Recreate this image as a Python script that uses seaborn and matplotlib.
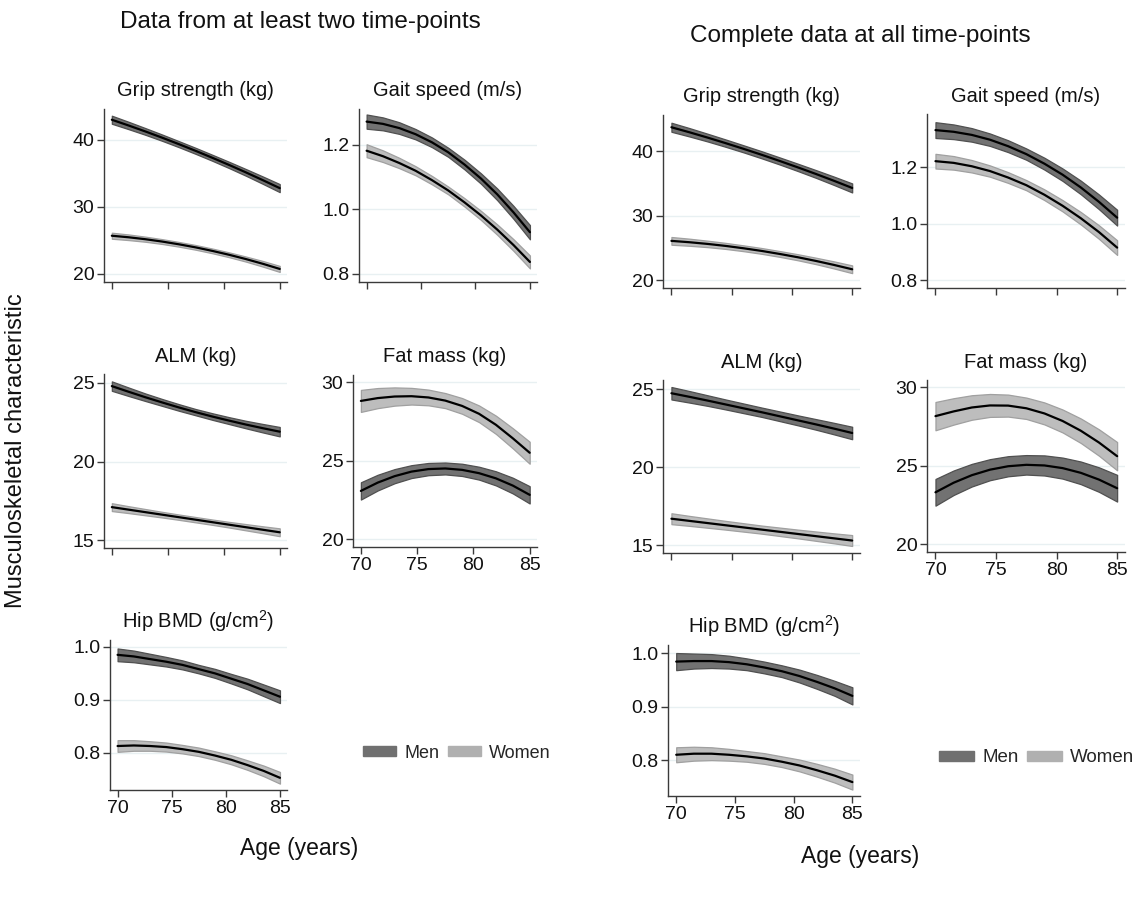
import matplotlib
matplotlib.use("Agg")
import matplotlib.pyplot as plt
import numpy as np
import pandas as pd
import seaborn as sns
from matplotlib.patches import Patch

# ---------------------------------------------------------------------------
# Data: predicted trajectories (mean and half-width of 95% CI) by age
# ---------------------------------------------------------------------------
AGES = [70, 71.5, 73, 74.5, 76, 77.5, 79, 80.5, 82, 83.5, 85]
SEXES = ["Men", "Women"]
MEASURES = ["Grip strength (kg)", "Gait speed (m/s)", "ALM (kg)",
            "Fat mass (kg)", "Hip BMD (g/cm$^2$)"]
PANEL_TITLES = ["Data from at least two time-points",
                "Complete data at all time-points"]
X_TICKS = [70, 75, 80, 85]
X_LABEL = "Age (years)"
Y_LABEL = "Musculoskeletal characteristic"

# Panel A: at least two time-points
A_GRIP_MEN = [43.0, 42.14, 41.25, 40.32, 39.35, 38.35, 37.31, 36.24, 35.13, 33.98, 32.8]
A_GRIP_WOMEN = [25.7, 25.47, 25.18, 24.83, 24.42, 23.96, 23.43, 22.85, 22.21, 21.51, 20.75]
A_GAIT_MEN = [1.271, 1.264, 1.251, 1.232, 1.207, 1.176, 1.138, 1.095, 1.046, 0.990, 0.929]
A_GAIT_WOMEN = [1.181, 1.164, 1.143, 1.119, 1.090, 1.058, 1.021, 0.981, 0.937, 0.889, 0.837]
A_ALM_MEN = [24.8, 24.44, 24.09, 23.76, 23.44, 23.14, 22.86, 22.60, 22.35, 22.12, 21.9]
A_ALM_WOMEN = [17.1, 16.94, 16.78, 16.62, 16.46, 16.3, 16.14, 15.98, 15.82, 15.66, 15.5]
A_FAT_MEN = [23.07, 23.60, 24.01, 24.30, 24.46, 24.50, 24.41, 24.20, 23.87, 23.41, 22.82]
A_FAT_WOMEN = [28.8, 28.98, 29.08, 29.1, 29.02, 28.82, 28.48, 27.98, 27.28, 26.42, 25.5]
A_HIP_MEN = [0.985, 0.982, 0.977, 0.972, 0.966, 0.958, 0.950, 0.940, 0.930, 0.918, 0.906]
A_HIP_WOMEN = [0.813, 0.814, 0.813, 0.811, 0.807, 0.802, 0.795, 0.787, 0.777, 0.766, 0.753]

A_GRIP_MEN_CI = [0.6, 0.55, 0.5, 0.47, 0.45, 0.45, 0.45, 0.47, 0.5, 0.55, 0.6]
A_GRIP_WOMEN_CI = [0.45, 0.42, 0.38, 0.36, 0.35, 0.35, 0.35, 0.36, 0.38, 0.42, 0.45]
A_GAIT_MEN_CI = [0.022, 0.02, 0.018, 0.016, 0.015, 0.014, 0.015, 0.016, 0.018, 0.02, 0.022]
A_GAIT_WOMEN_CI = [0.02, 0.018, 0.016, 0.014, 0.013, 0.012, 0.013, 0.014, 0.016, 0.018, 0.02]
A_ALM_MEN_CI = [0.3, 0.27, 0.24, 0.22, 0.21, 0.2, 0.21, 0.22, 0.24, 0.27, 0.3]
A_ALM_WOMEN_CI = [0.25, 0.22, 0.2, 0.18, 0.17, 0.17, 0.17, 0.18, 0.2, 0.22, 0.25]
A_FAT_MEN_CI = [0.55, 0.5, 0.45, 0.41, 0.39, 0.38, 0.39, 0.41, 0.45, 0.5, 0.55]
A_FAT_WOMEN_CI = [0.7, 0.64, 0.58, 0.53, 0.5, 0.48, 0.5, 0.53, 0.58, 0.64, 0.7]
A_HIP_MEN_CI = [0.012, 0.011, 0.01, 0.009, 0.0085, 0.008, 0.0085, 0.009, 0.01, 0.011, 0.012]
A_HIP_WOMEN_CI = [0.011, 0.01, 0.009, 0.0085, 0.008, 0.008, 0.008, 0.0085, 0.009, 0.01, 0.011]

# Panel B: complete data at all time-points
B_GRIP_MEN = [43.7, 42.92, 42.10, 41.24, 40.35, 39.43, 38.47, 37.48, 36.46, 35.40, 34.3]
B_GRIP_WOMEN = [26.1, 25.89, 25.63, 25.32, 24.95, 24.54, 24.07, 23.56, 22.99, 22.37, 21.7]
B_GAIT_MEN = [1.331, 1.325, 1.314, 1.297, 1.274, 1.246, 1.212, 1.173, 1.128, 1.077, 1.021]
B_GAIT_WOMEN = [1.221, 1.215, 1.203, 1.186, 1.163, 1.136, 1.102, 1.063, 1.019, 0.970, 0.915]
B_ALM_MEN = [24.75, 24.52, 24.28, 24.03, 23.78, 23.53, 23.27, 23.01, 22.75, 22.48, 22.2]
B_ALM_WOMEN = [16.7, 16.56, 16.42, 16.28, 16.14, 16.0, 15.86, 15.72, 15.58, 15.44, 15.3]
B_FAT_MEN = [23.30, 23.91, 24.39, 24.74, 24.96, 25.05, 25.01, 24.84, 24.54, 24.11, 23.56]
B_FAT_WOMEN = [28.15, 28.45, 28.7, 28.83, 28.82, 28.65, 28.32, 27.84, 27.22, 26.47, 25.6]
B_HIP_MEN = [0.984, 0.985, 0.985, 0.983, 0.979, 0.973, 0.966, 0.957, 0.946, 0.934, 0.920]
B_HIP_WOMEN = [0.810, 0.812, 0.812, 0.810, 0.807, 0.803, 0.797, 0.790, 0.781, 0.771, 0.759]

B_GRIP_MEN_CI = [0.7, 0.65, 0.6, 0.57, 0.55, 0.55, 0.55, 0.57, 0.6, 0.65, 0.7]
B_GRIP_WOMEN_CI = [0.6, 0.55, 0.5, 0.47, 0.45, 0.45, 0.45, 0.47, 0.5, 0.55, 0.6]
B_GAIT_MEN_CI = [0.028, 0.026, 0.024, 0.022, 0.021, 0.02, 0.021, 0.022, 0.024, 0.026, 0.028]
B_GAIT_WOMEN_CI = [0.026, 0.024, 0.022, 0.02, 0.019, 0.018, 0.019, 0.02, 0.022, 0.024, 0.026]
B_ALM_MEN_CI = [0.4, 0.37, 0.34, 0.32, 0.31, 0.3, 0.31, 0.32, 0.34, 0.37, 0.4]
B_ALM_WOMEN_CI = [0.35, 0.32, 0.3, 0.28, 0.27, 0.26, 0.27, 0.28, 0.3, 0.32, 0.35]
B_FAT_MEN_CI = [0.85, 0.78, 0.72, 0.67, 0.64, 0.62, 0.64, 0.67, 0.72, 0.78, 0.85]
B_FAT_WOMEN_CI = [0.9, 0.84, 0.78, 0.73, 0.7, 0.68, 0.7, 0.73, 0.78, 0.84, 0.9]
B_HIP_MEN_CI = [0.016, 0.014, 0.013, 0.012, 0.011, 0.011, 0.011, 0.012, 0.013, 0.014, 0.016]
B_HIP_WOMEN_CI = [0.014, 0.013, 0.012, 0.011, 0.01, 0.01, 0.01, 0.011, 0.012, 0.013, 0.014]

Y_TICKS = [[20, 30, 40], [0.8, 1.0, 1.2], [15, 20, 25], [20, 25, 30], [0.8, 0.9, 1.0]]
Y_FMT = ["{:.0f}", "{:.1f}", "{:.0f}", "{:.0f}", "{:.1f}"]

PANELS = [
    {
        "men": [A_GRIP_MEN, A_GAIT_MEN, A_ALM_MEN, A_FAT_MEN, A_HIP_MEN],
        "women": [A_GRIP_WOMEN, A_GAIT_WOMEN, A_ALM_WOMEN, A_FAT_WOMEN, A_HIP_WOMEN],
        "men_ci": [A_GRIP_MEN_CI, A_GAIT_MEN_CI, A_ALM_MEN_CI, A_FAT_MEN_CI, A_HIP_MEN_CI],
        "women_ci": [A_GRIP_WOMEN_CI, A_GAIT_WOMEN_CI, A_ALM_WOMEN_CI, A_FAT_WOMEN_CI, A_HIP_WOMEN_CI],
    },
    {
        "men": [B_GRIP_MEN, B_GAIT_MEN, B_ALM_MEN, B_FAT_MEN, B_HIP_MEN],
        "women": [B_GRIP_WOMEN, B_GAIT_WOMEN, B_ALM_WOMEN, B_FAT_WOMEN, B_HIP_WOMEN],
        "men_ci": [B_GRIP_MEN_CI, B_GAIT_MEN_CI, B_ALM_MEN_CI, B_FAT_MEN_CI, B_HIP_MEN_CI],
        "women_ci": [B_GRIP_WOMEN_CI, B_GAIT_WOMEN_CI, B_ALM_WOMEN_CI, B_FAT_WOMEN_CI, B_HIP_WOMEN_CI],
    },
]

# ---------------------------------------------------------------------------
# Layout (pixel boxes: left, top, right, bottom) and axis ranges
# ---------------------------------------------------------------------------
W, H = 1134, 902
BOXES = [
    [(104, 109, 287, 282), (359, 109, 537, 282), (104, 374, 287, 548),
     (353, 375, 537, 547), (110, 640, 287, 790)],
    [(663, 115, 860, 288), (927, 114, 1125, 288), (663, 380, 860, 553),
     (927, 380, 1125, 552), (668, 645, 860, 796)],
]
YLIMS = [
    [(18.8, 44.6), (0.775, 1.31), (14.5, 25.57), (19.5, 30.45), (0.730, 1.013)],
    [(18.8, 45.6), (0.772, 1.388), (14.5, 25.6), (19.5, 30.45), (0.733, 1.015)],
]
XLIM = (69.3, 85.65)
SHOW_XLABELS = [False, False, False, True, True]

MEN_FILL, MEN_EDGE = "#727272", "#505050"
WOMEN_FILL, WOMEN_EDGE = "#bdbdbd", "#a0a0a0"
GRID = "#e8f0f2"
AXIS = "#3a3a3a"
TEXT = "#111111"

sns.set_theme(style="white")
plt.rcParams["font.family"] = ["Liberation Sans", "DejaVu Sans"]
plt.rcParams["mathtext.fontset"] = "custom"
plt.rcParams["mathtext.rm"] = "Liberation Sans"
plt.rcParams["mathtext.it"] = "Liberation Sans"

fig = plt.figure(figsize=(W / 100, H / 100), dpi=100)
fig.patch.set_facecolor("white")


def add_axes(box):
    l, t, r, b = box
    return fig.add_axes([l / W, 1 - b / H, (r - l) / W, (b - t) / H])


for p, panel in enumerate(PANELS):
    for m, measure in enumerate(MEASURES):
        ax = add_axes(BOXES[p][m])
        frames = []
        for sex, key, fill, edge in (("Men", "men", MEN_FILL, MEN_EDGE),
                                      ("Women", "women", WOMEN_FILL, WOMEN_EDGE)):
            mean = np.array(panel[key][m])
            ci = np.array(panel[key + "_ci"][m])
            ax.fill_between(AGES, mean - ci, mean + ci, facecolor=fill,
                            edgecolor=edge, linewidth=0.9, zorder=2)
            frames.append(pd.DataFrame({"age": AGES, "value": mean, "sex": sex}))
        df = pd.concat(frames, ignore_index=True)
        sns.lineplot(data=df, x="age", y="value", units="sex", estimator=None,
                     color="black", linewidth=1.6, ax=ax, zorder=3, legend=False)

        ax.set_xlim(*XLIM)
        ax.set_ylim(*YLIMS[p][m])
        ax.set_yticks(Y_TICKS[m])
        ax.set_yticklabels([Y_FMT[m].format(v) for v in Y_TICKS[m]])
        ax.set_xticks(X_TICKS)
        if SHOW_XLABELS[m]:
            ax.set_xticklabels([str(v) for v in X_TICKS])
        else:
            ax.set_xticklabels([])
        ax.set_xlabel("")
        ax.set_ylabel("")
        ax.grid(axis="y", color=GRID, linewidth=1.0, zorder=0)
        ax.set_axisbelow(True)
        for s in ("top", "right"):
            ax.spines[s].set_visible(False)
        for s in ("left", "bottom"):
            ax.spines[s].set_color(AXIS)
            ax.spines[s].set_linewidth(1.0)
        ax.tick_params(axis="both", direction="out", length=5, width=1.0,
                       color=AXIS, labelsize=14, labelcolor=TEXT,
                       pad=2, left=True, bottom=True)
        ax.set_title(measure, fontsize=14.5, color=TEXT, pad=9)

# Panel titles, shared axis labels and legends
fig.text(300 / W, 1 - 22 / H, PANEL_TITLES[0], ha="center", va="center",
         fontsize=17.5, color=TEXT)
fig.text(860 / W, 1 - 36 / H, PANEL_TITLES[1], ha="center", va="center",
         fontsize=17.5, color=TEXT)
fig.text(299 / W, 1 - 848 / H, X_LABEL, ha="center", va="center",
         fontsize=16.5, color=TEXT)
fig.text(860 / W, 1 - 857 / H, X_LABEL, ha="center", va="center",
         fontsize=16.5, color=TEXT)
fig.text(16 / W, 1 - 451 / H, Y_LABEL, ha="center",
         va="center", rotation=90, fontsize=17, color=TEXT)

handles = [Patch(facecolor="#707070", edgecolor="#707070", label=SEXES[0]),
           Patch(facecolor="#b0b0b0", edgecolor="#b0b0b0", label=SEXES[1])]
for lx, cy, fs in ((363, 753, 13), (939, 758, 13.5)):
    fig.legend(handles=handles, loc="center left",
               bbox_to_anchor=(lx / W, 1 - cy / H), ncol=2, frameon=False,
               fontsize=fs, handlelength=1.85, handleheight=0.5,
               handletextpad=0.45, columnspacing=0.45, borderpad=0,
               borderaxespad=0)

fig.savefig("out.png", dpi=100, facecolor="white")
